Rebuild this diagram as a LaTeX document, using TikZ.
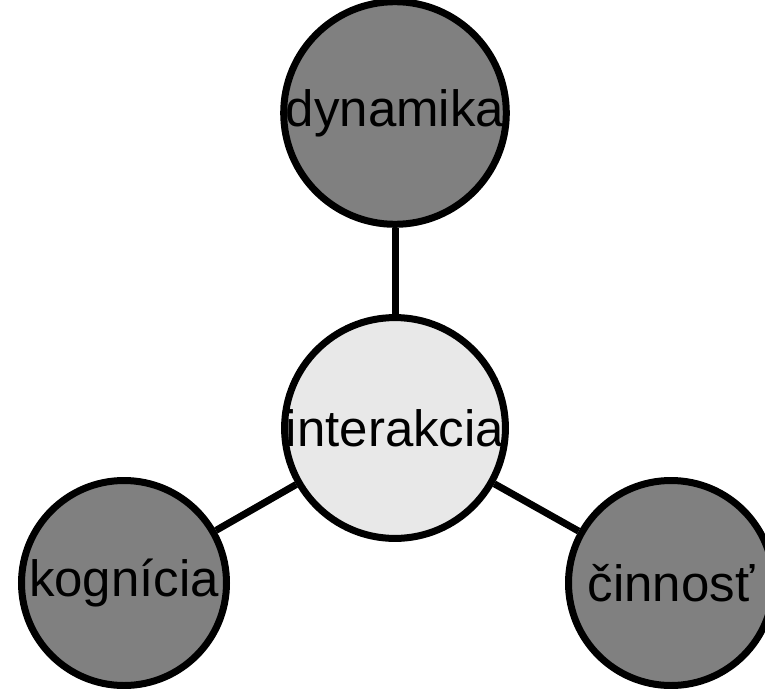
\documentclass[tikz,border=0pt]{standalone}
\usepackage{fontspec}
\setmainfont{Liberation Sans}
\usetikzlibrary{positioning}
\definecolor{outergray}{RGB}{128,128,128}
\definecolor{innergray}{RGB}{232,232,232}
\tikzset{
every node/.style={circle, draw, line width=7pt, minimum size=205pt, inner sep=0pt, font=\fontsize{51}{60}\selectfont},
outer/.style={fill=outergray},
inner/.style={fill=innergray},
link/.style={line width=7pt}
}

\begin{document}
\begin{tikzpicture}[x=1pt,y=1pt]
\useasboundingbox (0,0) rectangle (765,-688);
\node[inner] (int) at (395,-428) {interakcia};
\node[outer] (dyn) at (395,-113) {dynamika};
\node[outer] (kog) at (124,-583) {kognícia};
\node[outer] (cin) at (671,-583) {činnosť};

\draw[link] (int) -- (dyn);
\draw[link] (int) -- (kog);
\draw[link] (int) -- (cin);
\end{tikzpicture}
\end{document}
